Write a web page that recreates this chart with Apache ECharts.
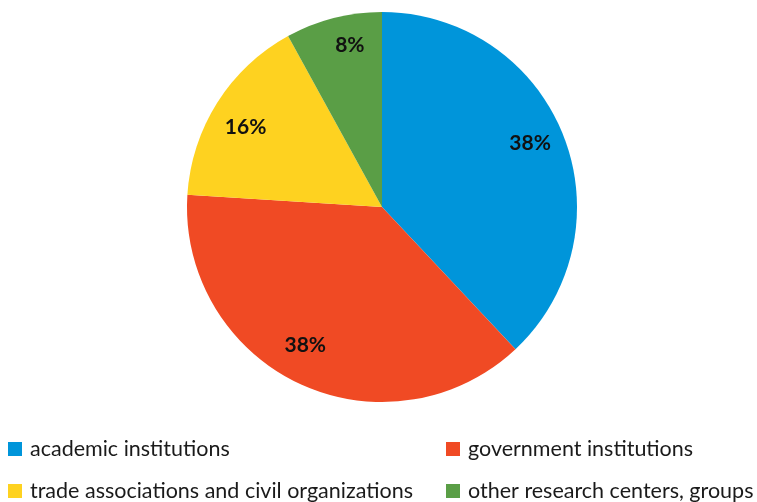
<!DOCTYPE html>
<html>
<head>
<meta charset="utf-8">
<script src="https://cdn.jsdelivr.net/npm/echarts@6/dist/echarts.min.js"></script>
<style>
  html, body { margin: 0; padding: 0; background: #ffffff; }
  #chart { width: 757px; height: 502px; }
</style>
</head>
<body>
<div id="chart"></div>
<script>
// Share of respondents by type of organization (percent)
const categories = [
  'academic institutions',
  'government institutions',
  'trade associations and civil organizations',
  'other research centers, groups'
];
const shares = [38, 38, 16, 8];
const colors = ['#0095da', '#f04a24', '#fed220', '#5a9e46'];

const data = categories.map((name, i) => ({
  name: name,
  value: shares[i],
  itemStyle: { color: colors[i] }
}));

const center = [382, 207];
const R = 195;

// small nudges so each percentage sits comfortably inside its slice
const labelNudge = [[-2, -4], [-8, -8], [0, 7], [8, -5]];

const legendText = {
  fontFamily: 'Lato, "Open Sans", sans-serif',
  fontSize: 21.5,
  color: '#1a1a1a',
  padding: [0, 0, 0, 3]
};

// legend laid out as a 2 x 2 grid: one legend block per entry
const legendSlots = [
  { left: 8, top: 438 },   // academic
  { left: 446, top: 438 }, // government
  { left: 8, top: 480 },   // trade
  { left: 446, top: 480 }  // other
];

const chart = echarts.init(document.getElementById('chart'), null, { renderer: 'canvas' });
chart.setOption({
  animation: false,
  legend: categories.map((name, i) => ({
    left: legendSlots[i].left,
    top: legendSlots[i].top,
    padding: 0,
    icon: 'rect',
    itemWidth: 14,
    itemHeight: 14,
    itemGap: 9,
    textStyle: legendText,
    data: [name]
  })),
  series: [
    {
      type: 'pie',
      center: center,
      radius: [0, R],
      startAngle: 90,
      clockwise: true,
      silent: true,
      label: { show: false },
      labelLine: { show: false },
      data: data
    },
    {
      // transparent ring that carries the percentage labels toward the rim
      type: 'pie',
      center: center,
      radius: [122, R],
      startAngle: 90,
      clockwise: true,
      silent: true,
      itemStyle: { color: 'rgba(0,0,0,0)' },
      label: {
        show: true,
        position: 'inside',
        formatter: '{c}%',
        fontFamily: 'Lato, "Open Sans", sans-serif',
        fontWeight: 'bold',
        fontSize: 21,
        color: '#111111'
      },
      labelLine: { show: false },
      data: categories.map((name, i) => ({
        name: name,
        value: shares[i],
        itemStyle: { color: 'rgba(0,0,0,0)' },
        label: { offset: labelNudge[i] }
      }))
    }
  ]
});
</script>
</body>
</html>
